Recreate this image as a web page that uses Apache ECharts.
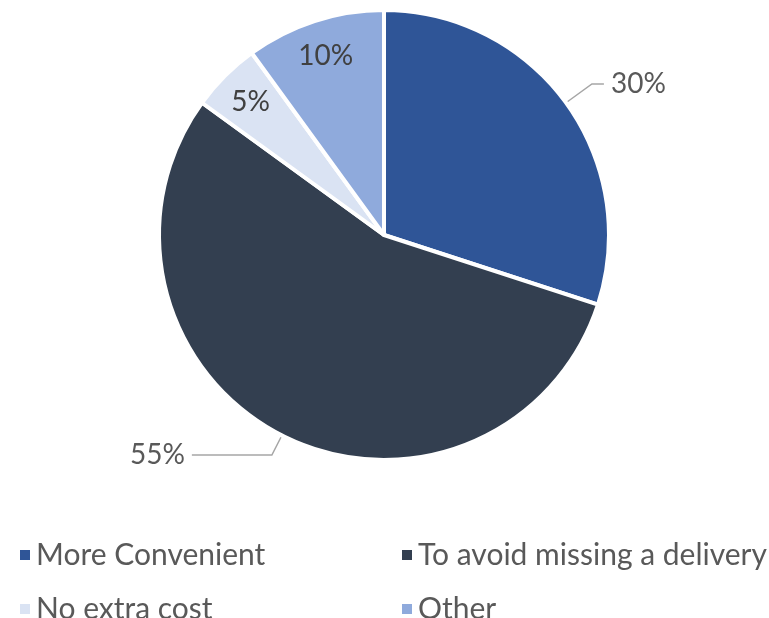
<!DOCTYPE html>
<html>
<head>
<meta charset="utf-8">
<script src="https://cdn.jsdelivr.net/npm/echarts@6/dist/echarts.min.js"></script>
<style>
  html, body { margin: 0; padding: 0; background: #ffffff; }
  #chart { width: 769px; height: 618px; }
</style>
</head>
<body>
<div id="chart"></div>
<script>
// Reasons given, share of respondents (%)
const categories = ['More Convenient', 'To avoid missing a delivery', 'No extra cost', 'Other'];
const shares = [30, 55, 5, 10];
const colors = ['#2F5597', '#333F50', '#DAE3F3', '#8FAADC'];
// which slices carry their label outside with a leader line
const outsideLabel = [true, true, false, false];
// leader line segments [radial, horizontal] for the outside labels
const leaderLines = [[32, 12], [22, 80], null, null];

const FONT = 'Lato';
const TEXT = '#595959';

const chart = echarts.init(document.getElementById('chart'));

const R = 225;

const mainData = categories.map((name, i) => ({
  name,
  value: shares[i],
  itemStyle: { color: colors[i] },
  label: { show: outsideLabel[i] },
  labelLine: leaderLines[i]
    ? { show: true, length: leaderLines[i][0], length2: leaderLines[i][1] }
    : { show: false }
}));

// transparent ring used only to place the in-slice labels near the rim
const ringData = categories.map((name, i) => ({
  name,
  value: shares[i],
  label: { show: !outsideLabel[i] }
}));

const legendText = { fontFamily: FONT, fontSize: 30, color: TEXT };

chart.setOption({
  backgroundColor: '#ffffff',
  animation: false,
  legend: [
    {
      orient: 'vertical', left: 13, top: 535, height: 140,
      data: [categories[0], categories[2]],
      icon: 'rect', itemWidth: 12, itemHeight: 12, itemGap: 24,
      textStyle: legendText
    },
    {
      orient: 'vertical', left: 395, top: 535, height: 140,
      data: [categories[1], categories[3]],
      icon: 'rect', itemWidth: 12, itemHeight: 12, itemGap: 24,
      textStyle: legendText
    }
  ],
  series: [
    {
      type: 'pie',
      center: [384, 235],
      radius: [0, R],
      startAngle: 90,
      clockwise: true,
      data: mainData,
      itemStyle: { borderColor: '#ffffff', borderWidth: 4 },
      label: {
        position: 'outside',
        formatter: '{c}%',
        fontFamily: FONT, fontSize: 28, color: TEXT,
        padding: [0, 2, 26, 2]
      },
      labelLine: {
        lineStyle: { color: '#A6A6A6', width: 1.5 }
      },
      emphasis: { disabled: true }
    },
    {
      type: 'pie',
      silent: true,
      center: [384, 235],
      radius: [146, R],
      startAngle: 90,
      clockwise: true,
      data: ringData,
      itemStyle: { color: 'rgba(0,0,0,0)' },
      label: {
        position: 'inner',
        formatter: '{c}%',
        fontFamily: FONT, fontSize: 28, color: '#404040'
      },
      labelLine: { show: false },
      emphasis: { disabled: true }
    }
  ]
});
</script>
</body>
</html>
